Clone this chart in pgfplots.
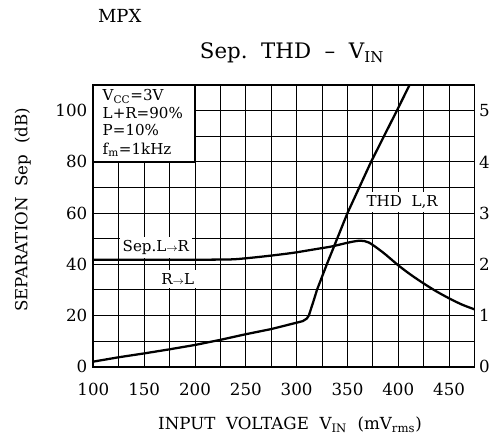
\documentclass[border=0pt]{standalone}
\usepackage{fontspec}
\setmainfont{DejaVu Serif}
\usepackage{pgfplots}
\pgfplotsset{compat=1.18}
\begin{document}
\begin{tikzpicture}
\path[use as bounding box] (0,0) rectangle (370.5pt,332.25pt);
\begin{axis}[
  at={(70pt,57.2pt)}, anchor=south west,
  scale only axis, width=285.9pt, height=211.3pt,
  xmin=100, xmax=475, ymin=0, ymax=110,
  xtick={100,150,...,450}, minor xtick={125,175,...,475},
  ytick={0,20,...,100}, minor ytick={10,30,...,110},
  grid=both,
  grid style={black, line width=0.6pt},
  minor grid style={black, line width=0.6pt},
  major tick length=0pt, minor tick length=0pt,
  axis line style={line width=1.4pt},
  ticklabel style={font=\fontsize{12.5}{14}\selectfont},
  /pgf/number format/assume math mode=true,
  xticklabel style={yshift=-9pt},
  yticklabel style={xshift=-1pt},
  clip=true,
]
\addplot[black, line width=1.7pt, smooth, tension=0.5] coordinates {
  (100,41.8) (150,41.8) (200,41.8) (235,41.9) (254,42.5) (275,43.4) (297,44.5)
  (320,46) (335,47) (350,48.4) (362,49.2) (371,48.5) (385,44.6) (400,39.6)
  (412,36.0) (425,32.5) (438,29.3) (451,26.5) (463,24.2) (475,22.4)
};
\fill[white] (axis cs:100,80) rectangle (axis cs:200,110);
\draw[line width=1pt] (axis cs:200,110) |- (axis cs:100,80);
\begin{scope}[every node/.style={font=\fontsize{11.3}{13}\selectfont, inner sep=0pt, anchor=base west}]
\node at (axis cs:109,104) {V\textsubscript{CC}=3V};
\node at (axis cs:109,97) {L+R=90\%};
\node at (axis cs:109,90.2) {P=10\%};
\node at (axis cs:109,83) {f\textsubscript{m}=1kHz};
\end{scope}
\begin{scope}[every node/.style={font=\fontsize{11.3}{13}\selectfont, fill=white, inner ysep=2.5pt, inner xsep=2pt, anchor=base west}]
\node at (axis cs:126,45.1) {Sep.L$\scriptstyle\to$R};
\node at (axis cs:164,32) {R$\scriptstyle\to$L};
\node at (axis cs:366,62.7) {THD\ \ L,R};
\end{scope}
\end{axis}
\begin{axis}[
  at={(70pt,57.2pt)}, anchor=south west,
  scale only axis, width=285.9pt, height=211.3pt,
  xmin=100, xmax=475, ymin=0, ymax=5.5,
  xtick=\empty, ytick={0,1,...,5}, ytick pos=right,
  major tick length=0pt,
  axis line style={line width=1.4pt},
  ticklabel style={font=\fontsize{12.5}{14}\selectfont},
  /pgf/number format/assume math mode=true,
]
\addplot[black, line width=1.7pt] coordinates {
  (100,0.1) (125,0.185) (150,0.26) (175,0.34) (200,0.425) (225,0.525) (250,0.635)
  (275,0.735) (294,0.83) (300,0.86) (306,0.89) (310,0.94) (312,1.0)
  (316.5,1.275) (320,1.5) (329.7,2.0) (350,3.0) (373.2,4.0) (398.6,5.0) (411.7,5.525)
};
\end{axis}
\node[anchor=base west, font=\fontsize{13.5}{15}\selectfont] at (70pt,315pt) {MPX};
\node[anchor=base, font=\fontsize{16}{18}\selectfont] at (219pt,288pt) {Sep.\ \ THD\ \ –\ \ V\textsubscript{IN}};
\node[anchor=base, font=\fontsize{12.5}{14}\selectfont] at (217.5pt,9.75pt) {INPUT\ \ VOLTAGE\ \ V\textsubscript{IN}\ \ (mV\textsubscript{rms})};
\node[anchor=base, rotate=90, font=\fontsize{12.5}{14}\selectfont] at (20.5pt,174.75pt) {SEPARATION\ \ Sep\ \ (dB)};
\end{tikzpicture}
\end{document}
